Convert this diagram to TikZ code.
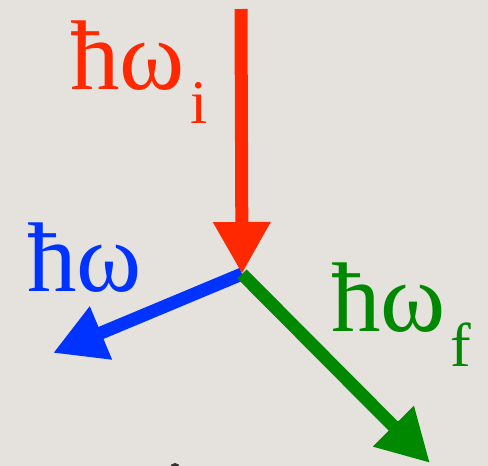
\documentclass[tikz,border=0pt]{standalone}
\usepackage{fontspec}
\newfontfamily\lserif{Liberation Serif}
\usetikzlibrary{arrows.meta}
\definecolor{bg}{RGB}{229,226,222}
\definecolor{cred}{RGB}{255,40,0}
\definecolor{cblue}{RGB}{0,51,255}
\definecolor{cgreen}{RGB}{0,136,0}
\tikzset{
  vec/.style={line width=13pt, -{Triangle[length=52pt,width=54pt]}},
  big/.style={inner sep=0pt, anchor=base west, font=\lserif\fontsize{99}{99}\selectfont},
  small/.style={inner sep=0pt, anchor=base west, font=\lserif\fontsize{62}{62}\selectfont}
}
\begin{document}
\begin{tikzpicture}[x=1pt,y=-1pt]
\useasboundingbox (0,0) rectangle (488,466);
\clip (0,0) rectangle (488,466);
\fill[bg] (0,0) rectangle (488,466);
\coordinate (top) at (241,9);
\coordinate (o) at (242,274);
\coordinate (bt) at (53,353);
\coordinate (gt) at (430,463);
\draw[vec, cblue] (o) -- (bt);
\draw[vec, cgreen] (o) -- (gt);
\draw[vec, cred] (top) -- (o);
\node[big, text=cred] (li) at (70,89) {ħω};
\node[small, text=cred] (lis) at (190,123) {i};
\node[big, text=cblue] (lb) at (27,291) {ħω};
\node[big, text=cgreen] (lg) at (331,331) {ħω};
\node[small, text=cgreen] (lgs) at (450,366) {f};
\fill[black!80] (175,468) circle (5);
\end{tikzpicture}
\end{document}
